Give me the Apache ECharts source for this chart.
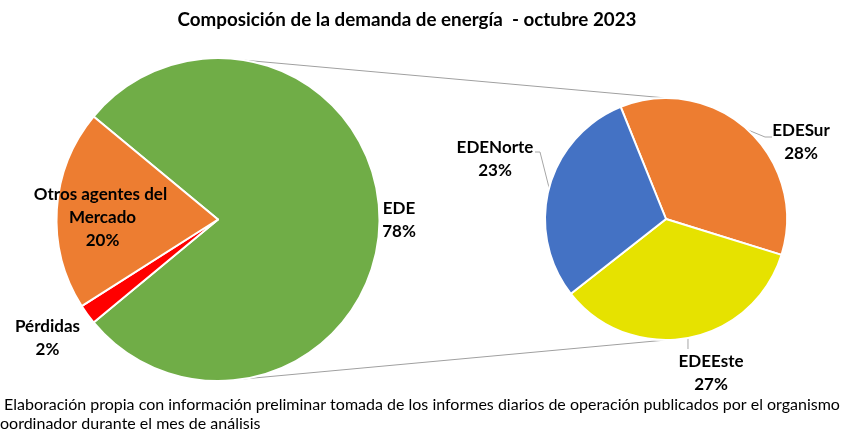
<!DOCTYPE html>
<html>
<head>
<meta charset="utf-8">
<script src="https://cdn.jsdelivr.net/npm/echarts@6/dist/echarts.min.js"></script>
<style>
  html, body { margin: 0; padding: 0; background: #fff; }
  #main { width: 863px; height: 434px; }
</style>
</head>
<body>
<div id="main"></div>
<script>
// datos: composición de la demanda (%)
const mainNames = ['EDE', 'Pérdidas', 'Otros agentes del Mercado']
const mainValues = [78, 2, 20]
const mainColors = ['#70AD47', '#FF0000', '#ED7D31']

const subNames = ['EDESur', 'EDEEste', 'EDENorte']
const subValues = [28, 27, 23]
const subColors = ['#ED7D31', '#E6E200', '#4472C4']

const titleText = 'Composición de la demanda de energía  - octubre 2023'
const footLines = [
  ' Elaboración propia con información preliminar tomada de los informes diarios de operación publicados por el organismo',
  'oordinador durante el mes de análisis'
]

// geometría de los dos pasteles
const leftC = [218, 219.5], leftR = 161.5
const rightC = [666, 219], rightR = 121

// posiciones de etiquetas (centro del bloque de texto)
const mainLabelPos = [[399, 220], [47.5, 338.5], [102.5, 218]]
const subLabelPos = [[801, 142.5], [711, 373.5], [495, 159]]

const font = 'Lato, "Liberation Sans", sans-serif'

function onCircle(c, r, deg) {
  const a = deg * Math.PI / 180
  return [c[0] + r * Math.cos(a), c[1] - r * Math.sin(a)]
}

const labelStyle = {
  fontFamily: font,
  fontWeight: 'bold',
  fontSize: 17,
  lineHeight: 23,
  color: '#000',
  align: 'center'
}

var myChart = echarts.init(document.getElementById('main'))

var option = {
  animation: false,
  title: {
    text: titleText,
    left: 402,
    textAlign: 'center',
    top: 5,
    textStyle: { fontFamily: font, fontWeight: 'bold', fontSize: 18.8, color: '#000' }
  },
  graphic: [
    {
      type: 'polyline',
      shape: { points: [onCircle(leftC, leftR, 80.5), onCircle(rightC, rightR, 90)] },
      style: { stroke: '#A0A0A0', lineWidth: 1, fill: null },
      z: 1
    },
    {
      type: 'polyline',
      shape: { points: [onCircle(leftC, leftR, -81), onCircle(rightC, rightR, -90)] },
      style: { stroke: '#A0A0A0', lineWidth: 1, fill: null },
      z: 1
    },
    {
      type: 'text',
      left: 0,
      top: 395,
      style: {
        text: footLines.join('\n'),
        fontFamily: font,
        fontSize: 16,
        lineHeight: 19,
        fill: '#000'
      }
    }
  ],
  series: [
    {
      type: 'pie',
      center: leftC,
      radius: leftR,
      startAngle: 140.4,
      clockwise: true,
      z: 3,
      itemStyle: { borderColor: '#fff', borderWidth: 2 },
      label: Object.assign({ show: true, formatter: '{b}\n{c}%', position: 'outside', width: 160, overflow: 'break' }, labelStyle),
      labelLine: { show: false },
      labelLayout: function (p) {
        const pos = mainLabelPos[p.dataIndex]
        return { x: pos[0], y: pos[1], align: 'center', verticalAlign: 'middle' }
      },
      data: mainNames.map((n, i) => ({ name: n, value: mainValues[i], itemStyle: { color: mainColors[i] } }))
    },
    {
      type: 'pie',
      center: rightC,
      radius: rightR,
      startAngle: 112,
      clockwise: true,
      z: 3,
      itemStyle: { borderColor: '#fff', borderWidth: 2 },
      label: Object.assign({ show: true, formatter: '{b}\n{c}%', position: 'outside' }, labelStyle),
      labelLine: { show: true, length: 8, length2: 6, lineStyle: { color: '#A6A6A6', width: 1 } },
      labelLayout: function (p) {
        const pos = subLabelPos[p.dataIndex]
        const start = p.labelLinePoints ? p.labelLinePoints[0] : pos
        let pts
        if (p.dataIndex === 0) {
          pts = [start, [765, 137], [772, 137]]
        } else if (p.dataIndex === 1) {
          pts = [start, [start[0], 344], [start[0], 349]]
        } else {
          pts = [start, [540, 152], [535, 152]]
        }
        return { x: pos[0], y: pos[1], align: 'center', verticalAlign: 'middle', labelLinePoints: pts }
      },
      data: subNames.map((n, i) => ({ name: n, value: subValues[i], itemStyle: { color: subColors[i] } }))
    }
  ]
}

myChart.setOption(option)
</script>
</body>
</html>
